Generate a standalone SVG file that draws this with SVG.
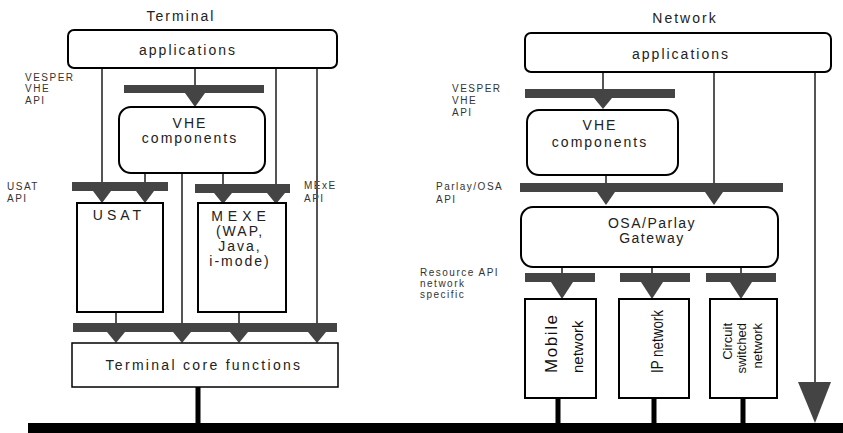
<svg xmlns="http://www.w3.org/2000/svg" width="843" height="433" viewBox="0 0 843 433">
<style>
text{font-family:"Liberation Sans",Arial,sans-serif;fill:#222}
.t{font-size:14px;letter-spacing:2px;text-anchor:middle}
.h{font-size:14px;letter-spacing:2px;text-anchor:middle}
.s{font-size:10px;letter-spacing:1.5px;fill:#333}
.box{fill:#fff;stroke:#000;stroke-width:2}
.ln{stroke:#555;stroke-width:2;fill:none}
.bar{fill:#444}
.tri{fill:#444}
.blk{stroke:#000;stroke-width:5}
.v{font-size:17px;fill:#111}
.vs{font-size:13px;fill:#111}
</style>
<rect width="843" height="433" fill="#fff"/>
<text class="h" x="181" y="21">Terminal</text>
<text class="h" x="685" y="23">Network</text>
<g id="labels">
<text class="s" x="25" y="81">VESPER</text>
<text class="s" x="25" y="92">VHE</text>
<text class="s" x="25" y="104">API</text>
<text class="s" x="7" y="190">USAT</text>
<text class="s" x="7" y="202">API</text>
<text class="s" x="304" y="189">MExE</text>
<text class="s" x="304" y="202">API</text>
<text class="s" x="452" y="92">VESPER</text>
<text class="s" x="452" y="104">VHE</text>
<text class="s" x="452" y="116">API</text>
<text class="s" x="436" y="190">Parlay/OSA</text>
<text class="s" x="436" y="203">API</text>
<text class="s" x="420" y="276">Resource API</text>
<text class="s" x="420" y="287">network</text>
<text class="s" x="420" y="298">specific</text>
</g>
<g id="connectors">
<path class="ln" d="M102 68V190M195 68V88M276 68V190M317 68V330M145 173V188M223 173V190M182 173V330M116 312V330M239 312V330"/>
<path class="ln" d="M603 72V92M714 72V188M815 72V385M606 175V188M562 267V278M652 267V278M741 267V278"/>
<rect class="bar" x="124" y="85" width="140" height="8"/>
<rect class="bar" x="72" y="182" width="96" height="9"/>
<rect class="bar" x="195" y="184" width="95" height="9"/>
<rect class="bar" x="73" y="323" width="264" height="9"/>
<rect class="bar" x="525" y="89" width="150" height="9"/>
<rect class="bar" x="520" y="183" width="263" height="9"/>
<rect class="bar" x="525" y="273" width="70" height="9"/>
<rect class="bar" x="620" y="273" width="70" height="9"/>
<rect class="bar" x="706" y="273" width="70" height="9"/>
<path class="tri" d="M185 93H205L195 107Z"/>
<path class="tri" d="M93 191H111L102 203Z M136 191H154L145 203Z"/>
<path class="tri" d="M214 193H232L223 204Z M267 193H285L276 204Z"/>
<path class="tri" d="M107 332H125L116 343Z M173 332H191L182 343Z M230 332H248L239 343Z M308 332H326L317 343Z"/>
<path class="tri" d="M594 98H612L603 109Z"/>
<path class="tri" d="M597 192H615L606 205Z M705 192H723L714 205Z"/>
<path class="tri" d="M551 282H573L562 299Z M641 282H663L652 299Z M730 282H752L741 299Z"/>
<path class="tri" d="M798 382H831L815 423Z"/>
<path class="blk" d="M198 387V424M558 398V424M654 398V424M743 398V424"/>
<rect x="28" y="423" width="815" height="10" fill="#000"/>
</g>
<g id="t-apps"><rect class="box" x="68" y="30" width="269" height="38" rx="6"/><text class="t" x="188" y="55">applications</text></g>
<g id="t-vhe"><rect class="box" x="119" y="107" width="146" height="66" rx="12"/><text class="t" x="190" y="128">VHE</text><text class="t" x="190" y="143">components</text></g>
<g id="t-usat"><rect class="box" x="77" y="203" width="86" height="109"/><text class="t" x="119" y="220" style="letter-spacing:4px">USAT</text></g>
<g id="t-mexe"><rect class="box" x="198" y="203" width="88" height="109"/><text class="t" x="241" y="221" style="letter-spacing:5px">MEXE</text><text class="t" x="240" y="236">(WAP,</text><text class="t" x="240" y="251">Java,</text><text class="t" x="240" y="266">i-mode)</text></g>
<g id="t-core"><rect class="box" x="72" y="343" width="266" height="44" style="stroke-width:1.5"/><text class="t" x="204" y="370" style="letter-spacing:2.3px">Terminal core functions</text></g>
<g id="n-apps"><rect class="box" x="525" y="33" width="306" height="39" rx="6"/><text class="t" x="681" y="59">applications</text></g>
<g id="n-vhe"><rect class="box" x="527" y="110" width="151" height="65" rx="12"/><text class="t" x="600" y="130">VHE</text><text class="t" x="600" y="147">components</text></g>
<g id="n-gw"><rect class="box" x="521" y="207" width="257" height="60" rx="12"/><text class="t" x="652" y="228" style="letter-spacing:1.5px">OSA/Parlay</text><text class="t" x="652" y="243" style="letter-spacing:1.5px">Gateway</text></g>
<g id="n-mobile"><rect class="box" x="525" y="299" width="71" height="99"/><text class="v" transform="translate(557 373) rotate(-90)" textLength="58" lengthAdjust="spacing">Mobile</text><text class="v" transform="translate(583 373) rotate(-90)" style="font-size:15px">network</text></g>
<g id="n-ip"><rect class="box" x="619" y="299" width="70" height="99"/><text class="v" transform="translate(663 373) rotate(-90)" textLength="63" lengthAdjust="spacingAndGlyphs">IP network</text></g>
<g id="n-cs"><rect class="box" x="710" y="299" width="67" height="99"/><text class="vs" transform="translate(732 323) rotate(-90)" text-anchor="end">Circuit</text><text class="vs" transform="translate(746 323) rotate(-90)" text-anchor="end">switched</text><text class="vs" transform="translate(762 323) rotate(-90)" text-anchor="end">network</text></g>
</svg>
